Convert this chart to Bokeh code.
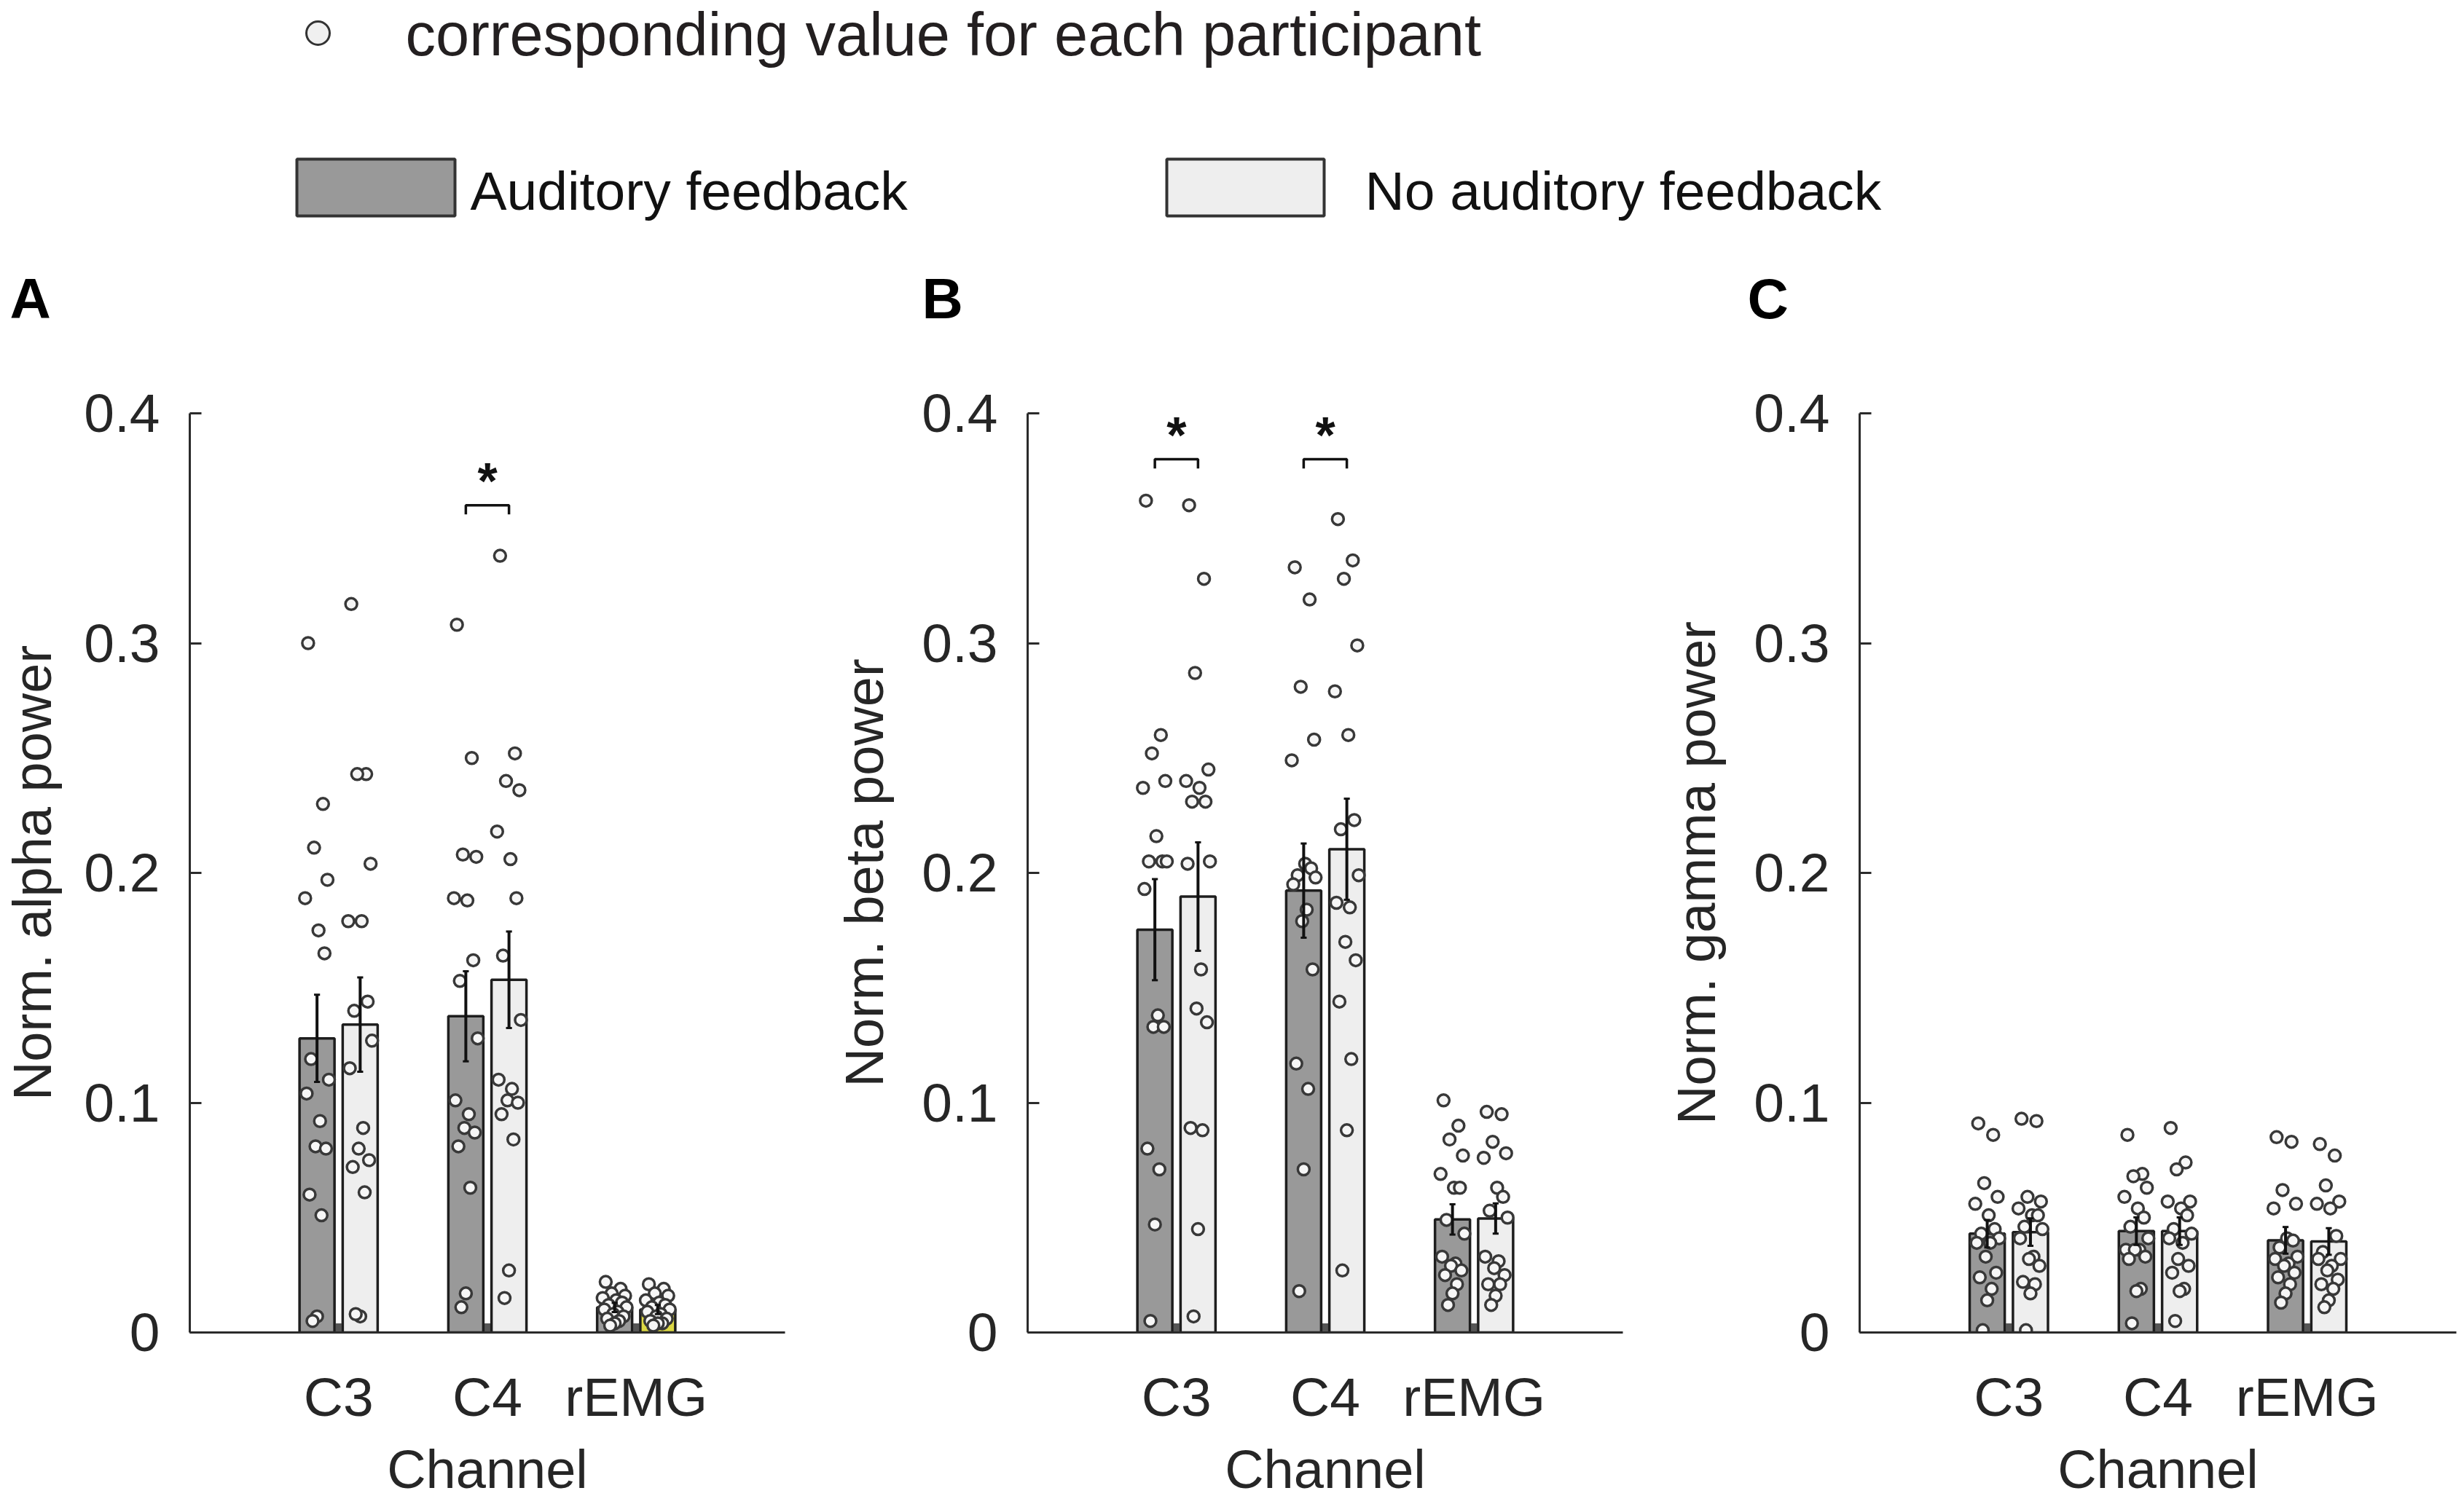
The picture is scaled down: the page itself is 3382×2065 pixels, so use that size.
import math
from bokeh.plotting import figure
from bokeh.layouts import column, row
from bokeh.models import Range1d, FixedTicker, CustomJSTickFormatter
from bokeh.embed import file_html
from bokeh.resources import INLINE
from bokeh.core.properties import value

# ---------------- data ----------------
CHANNELS = ["C3", "C4", "rEMG"]
CONDITIONS = ["Auditory feedback", "No auditory feedback"]
POINT_LABEL = "corresponding value for each participant"
Y_TICKS = [0, 0.1, 0.2, 0.3, 0.4]
PANEL_LETTERS = ["A", "B", "C"]
Y_LABELS = ["Norm. alpha power", "Norm. beta power", "Norm. gamma power"]
X_LABEL = "Channel"

ALPHA_MEAN_AUD = [0.128, 0.1376, 0.0109]
ALPHA_MEAN_NOAUD = [0.134, 0.1535, 0.0100]
ALPHA_SEM_AUD = [0.019, 0.0196, 0.002]
ALPHA_SEM_NOAUD = [0.0205, 0.021, 0.002]

BETA_MEAN_AUD = [0.1753, 0.1923, 0.0492]
BETA_MEAN_NOAUD = [0.1897, 0.2103, 0.0496]
BETA_SEM_AUD = [0.022, 0.0205, 0.0066]
BETA_SEM_NOAUD = [0.0236, 0.022, 0.0066]

GAMMA_MEAN_AUD = [0.0430, 0.0441, 0.0401]
GAMMA_MEAN_NOAUD = [0.0437, 0.0441, 0.0396]
GAMMA_SEM_AUD = [0.006, 0.006, 0.0058]
GAMMA_SEM_NOAUD = [0.006, 0.006, 0.0058]

# individual participant values (17 participants)
ALPHA_C3_AUD = [0.300, 0.230, 0.211, 0.197, 0.189, 0.175, 0.165, 0.119, 0.110, 0.104, 0.092, 0.081, 0.080, 0.060, 0.051, 0.007, 0.005]
ALPHA_C3_NOAUD = [0.317, 0.243, 0.243, 0.204, 0.179, 0.179, 0.144, 0.140, 0.127, 0.115, 0.089, 0.080, 0.075, 0.072, 0.061, 0.007, 0.008]
ALPHA_C4_AUD = [0.308, 0.250, 0.208, 0.207, 0.189, 0.188, 0.162, 0.153, 0.128, 0.101, 0.095, 0.089, 0.087, 0.081, 0.063, 0.017, 0.011]
ALPHA_C4_NOAUD = [0.338, 0.252, 0.240, 0.236, 0.218, 0.206, 0.189, 0.164, 0.136, 0.110, 0.106, 0.101, 0.100, 0.095, 0.084, 0.027, 0.015]
ALPHA_REMG_AUD = [0.022, 0.019, 0.017, 0.016, 0.015, 0.014, 0.013, 0.012, 0.011, 0.010, 0.009, 0.008, 0.007, 0.006, 0.005, 0.004, 0.003]
ALPHA_REMG_NOAUD = [0.021, 0.019, 0.017, 0.016, 0.014, 0.013, 0.012, 0.011, 0.010, 0.009, 0.008, 0.007, 0.006, 0.005, 0.004, 0.004, 0.003]

BETA_C3_AUD = [0.362, 0.260, 0.252, 0.240, 0.237, 0.216, 0.205, 0.205, 0.205, 0.193, 0.138, 0.133, 0.133, 0.080, 0.071, 0.047, 0.005]
BETA_C3_NOAUD = [0.360, 0.328, 0.287, 0.245, 0.240, 0.237, 0.231, 0.231, 0.205, 0.204, 0.158, 0.141, 0.135, 0.089, 0.088, 0.045, 0.007]
BETA_C4_AUD = [0.333, 0.319, 0.281, 0.258, 0.249, 0.204, 0.202, 0.199, 0.198, 0.195, 0.184, 0.179, 0.158, 0.117, 0.106, 0.071, 0.018]
BETA_C4_NOAUD = [0.354, 0.336, 0.328, 0.299, 0.279, 0.260, 0.223, 0.219, 0.199, 0.187, 0.185, 0.170, 0.162, 0.144, 0.119, 0.088, 0.027]
BETA_REMG_AUD = [0.101, 0.090, 0.084, 0.077, 0.069, 0.063, 0.063, 0.049, 0.043, 0.033, 0.030, 0.029, 0.027, 0.025, 0.021, 0.017, 0.012]
BETA_REMG_NOAUD = [0.096, 0.095, 0.083, 0.078, 0.076, 0.063, 0.059, 0.053, 0.050, 0.033, 0.031, 0.028, 0.025, 0.021, 0.021, 0.016, 0.012]

GAMMA_C3_AUD = [0.091, 0.086, 0.065, 0.059, 0.056, 0.051, 0.045, 0.043, 0.041, 0.039, 0.039, 0.033, 0.026, 0.024, 0.019, 0.014, 0.001]
GAMMA_C3_NOAUD = [0.093, 0.092, 0.059, 0.057, 0.054, 0.051, 0.051, 0.046, 0.045, 0.041, 0.033, 0.032, 0.029, 0.022, 0.021, 0.017, 0.001]
GAMMA_C4_AUD = [0.086, 0.069, 0.068, 0.063, 0.059, 0.054, 0.050, 0.046, 0.041, 0.036, 0.036, 0.036, 0.033, 0.032, 0.019, 0.018, 0.004]
GAMMA_C4_NOAUD = [0.089, 0.074, 0.071, 0.057, 0.057, 0.054, 0.051, 0.045, 0.043, 0.041, 0.039, 0.032, 0.029, 0.026, 0.019, 0.018, 0.005]
GAMMA_REMG_AUD = [0.085, 0.083, 0.062, 0.056, 0.054, 0.041, 0.040, 0.037, 0.033, 0.032, 0.030, 0.029, 0.026, 0.024, 0.021, 0.017, 0.013]
GAMMA_REMG_NOAUD = [0.082, 0.077, 0.064, 0.057, 0.056, 0.054, 0.042, 0.035, 0.032, 0.032, 0.029, 0.027, 0.023, 0.021, 0.019, 0.014, 0.011]

# significance brackets: channel -> bracket height
ALPHA_SIG = {"C4": 0.360}
BETA_SIG = {"C3": 0.380, "C4": 0.380}
GAMMA_SIG = {}

PANEL_DATA = [
    dict(mean=(ALPHA_MEAN_AUD, ALPHA_MEAN_NOAUD), sem=(ALPHA_SEM_AUD, ALPHA_SEM_NOAUD),
         pts=((ALPHA_C3_AUD, ALPHA_C4_AUD, ALPHA_REMG_AUD), (ALPHA_C3_NOAUD, ALPHA_C4_NOAUD, ALPHA_REMG_NOAUD)),
         sig=ALPHA_SIG),
    dict(mean=(BETA_MEAN_AUD, BETA_MEAN_NOAUD), sem=(BETA_SEM_AUD, BETA_SEM_NOAUD),
         pts=((BETA_C3_AUD, BETA_C4_AUD, BETA_REMG_AUD), (BETA_C3_NOAUD, BETA_C4_NOAUD, BETA_REMG_NOAUD)),
         sig=BETA_SIG),
    dict(mean=(GAMMA_MEAN_AUD, GAMMA_MEAN_NOAUD), sem=(GAMMA_SEM_AUD, GAMMA_SEM_NOAUD),
         pts=((GAMMA_C3_AUD, GAMMA_C4_AUD, GAMMA_REMG_AUD), (GAMMA_C3_NOAUD, GAMMA_C4_NOAUD, GAMMA_REMG_NOAUD)),
         sig=GAMMA_SIG),
]

# ---------------- style ----------------
FONT = "Liberation Sans"
DARK_FILL = "#999999"
LIGHT_FILL = "#eeeeee"
LIGHT_FILL_OVERRIDE = {(0, 2): "#dcd844"}   # yellowish rEMG bar in panel A
EDGE = "#1e1e1e"
AXIS_COL = "#2b2b2b"
TXT_COL = "#262626"
DOT_EDGE = "#383838"
DOT_FILL = "#f6f6f6"
OFFSETS = (-0.145, 0.145)
BAR_W = 0.235
JITTER = [-0.06, 0.04, -0.02, 0.07, -0.08, 0.01, 0.05, -0.04, 0.08, -0.07, 0.02, -0.01, 0.06, -0.05, 0.03, 0.0, -0.03]
SHIFT_EM = 0.36  # renderer places alphabetic text this many em lower

TOTAL_W = 3380
HEADER_H = 470
PANEL_H = 1595
BORDER_TOP = 97
BORDER_BOTTOM = 236
PANEL_GEOM = [  # (fig width, border left, border right, y-label standoff)
    (1142, 257, 65, 26),
    (1142, 265, 57, 34),
    (1096, 265, 9, 34),
]

# ---------------- header (legends + panel letters) ----------------
header = figure(width=TOTAL_W, height=HEADER_H, x_range=Range1d(0, TOTAL_W), y_range=Range1d(HEADER_H, 0),
                x_axis_location=None, y_axis_location=None, toolbar_location=None,
                output_backend="svg", min_border=0)
header.outline_line_color = None
header.xgrid.visible = False
header.ygrid.visible = False

header.scatter(x=[436], y=[45], size=32, marker="circle", fill_color="#f0f0f0",
               line_color="#333333", line_width=3)
header.text(x=[556], y=[77 - SHIFT_EM * 83], text=[POINT_LABEL], text_font=value(FONT), text_font_size="83px",
            text_color="#231f20", text_baseline="alphabetic", text_align="left")

leg_boxes = [(407, 624, DARK_FILL), (1601, 1817, LIGHT_FILL)]
leg_text_x = [645, 1873]
for (l, r, c), tx, lab in zip(leg_boxes, leg_text_x, CONDITIONS):
    header.quad(left=[l], right=[r], top=[218], bottom=[296], fill_color=c, line_color="#333333", line_width=4)
    header.text(x=[tx], y=[288 - SHIFT_EM * 75], text=[lab], text_font=value(FONT), text_font_size="75px",
                text_color="#111111", text_baseline="alphabetic", text_align="left")

for lx, letter in zip([13, 1265, 2398], PANEL_LETTERS):
    header.text(x=[lx], y=[438 - SHIFT_EM * 78], text=[letter], text_font=value(FONT), text_font_size="78px",
                text_font_style="bold", text_color="#000000", text_baseline="alphabetic", text_align="left")

# ---------------- panels ----------------
tick_fmt = CustomJSTickFormatter(code="return tick === 0 ? '0' : tick.toFixed(1);")

panels = []
for pi, (pdata, ylab, (fw, bl, br, ylab_standoff)) in enumerate(zip(PANEL_DATA, Y_LABELS, PANEL_GEOM)):
    p = figure(width=fw, height=PANEL_H, x_range=Range1d(0, 4), y_range=Range1d(0, 0.4),
               toolbar_location=None, output_backend="svg",
               min_border_left=bl, min_border_right=br,
               min_border_top=BORDER_TOP, min_border_bottom=BORDER_BOTTOM)
    p.outline_line_color = None
    p.xgrid.visible = False
    p.ygrid.visible = False

    # axes
    p.yaxis.ticker = FixedTicker(ticks=Y_TICKS)
    p.yaxis.formatter = tick_fmt
    p.yaxis.major_tick_in = 16
    p.yaxis.major_tick_out = 0
    p.yaxis.minor_tick_line_color = None
    p.yaxis.major_label_standoff = 41
    p.yaxis.axis_label = ylab
    p.yaxis.axis_label_standoff = ylab_standoff
    p.xaxis.ticker = FixedTicker(ticks=[1, 2, 3])
    p.xaxis.major_label_overrides = {i + 1: c for i, c in enumerate(CHANNELS)}
    p.xaxis.major_tick_in = 0
    p.xaxis.major_tick_out = 0
    p.xaxis.minor_tick_line_color = None
    p.xaxis.major_label_standoff = 46
    p.xaxis.axis_label = X_LABEL
    p.xaxis.axis_label_standoff = 13
    for ax in (p.xaxis, p.yaxis):
        ax.axis_line_color = AXIS_COL
        ax.axis_line_width = 3
        ax.major_tick_line_color = AXIS_COL
        ax.major_tick_line_width = 3
        ax.major_label_text_font = FONT
        ax.major_label_text_font_size = "75px"
        ax.major_label_text_color = TXT_COL
        ax.axis_label_text_font = FONT
        ax.axis_label_text_font_size = "74px"
        ax.axis_label_text_font_style = "normal"
        ax.axis_label_text_color = TXT_COL

    xs_groups = [i + 1 for i in range(len(CHANNELS))]

    # small dark block between bars at the baseline
    p.quad(left=[g - 0.02 for g in xs_groups], right=[g + 0.02 for g in xs_groups],
           bottom=[0] * 3, top=[0.004] * 3, fill_color="#555555", line_color=None)

    for ci in range(2):
        means = pdata["mean"][ci]
        sems = pdata["sem"][ci]
        xs = [g + OFFSETS[ci] for g in xs_groups]
        if ci == 0:
            fills = [DARK_FILL] * 3
        else:
            fills = [LIGHT_FILL_OVERRIDE.get((pi, k), LIGHT_FILL) for k in range(3)]
        p.vbar(x=xs, width=BAR_W, top=means, bottom=0, fill_color=fills,
               line_color=EDGE, line_width=3.5)
        # participant dots
        for k, vals in enumerate(pdata["pts"][ci]):
            px = [xs[k] + JITTER[j % len(JITTER)] for j in range(len(vals))]
            p.scatter(x=px, y=vals, size=16, marker="circle", fill_color=DOT_FILL,
                      line_color=DOT_EDGE, line_width=3.5)
        # error bars
        lo = [m - s for m, s in zip(means, sems)]
        hi = [m + s for m, s in zip(means, sems)]
        p.segment(x0=xs, y0=lo, x1=xs, y1=hi, line_color="#111111", line_width=4)
        p.segment(x0=[x - 0.02 for x in xs], y0=hi, x1=[x + 0.02 for x in xs], y1=hi,
                  line_color="#111111", line_width=3)
        p.segment(x0=[x - 0.02 for x in xs], y0=lo, x1=[x + 0.02 for x in xs], y1=lo,
                  line_color="#111111", line_width=3)

    # significance brackets
    for ch, h in pdata["sig"].items():
        g = CHANNELS.index(ch) + 1
        x0, x1 = g + OFFSETS[0], g + OFFSETS[1]
        p.line(x=[x0, x0, x1, x1], y=[h - 0.004, h, h, h - 0.004], line_color="#111111", line_width=3.5)
        p.text(x=[g], y=[h + 0.0103], text=["*"], text_font=value(FONT), text_font_size="70px",
               text_font_style="bold", text_color="#111111", text_align="center", text_baseline="alphabetic")

    panels.append(p)

layout = column(header, row(*panels))
open("out.html", "w").write(file_html(layout, INLINE))
